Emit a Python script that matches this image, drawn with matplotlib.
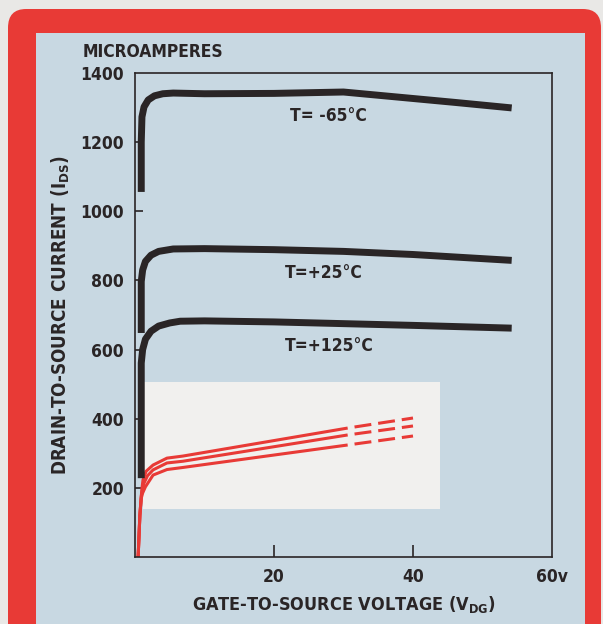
import matplotlib
matplotlib.use('Agg')
from matplotlib import pyplot as plt
from matplotlib.patches import FancyBboxPatch, Rectangle

# drain current curves, microamperes vs volts
vMinus65 = [0.9, 0.9, 1.0, 1.3, 1.9, 2.8, 4.0, 5.5, 10, 20, 30, 38, 46, 54.2]
iMinus65 = [1056, 1200, 1273, 1302, 1322, 1334, 1340, 1342, 1340, 1341, 1345, 1330, 1315, 1299]

vPlus25 = [0.9, 0.9, 1.1, 1.5, 2.3, 3.4, 5.5, 10, 20, 30, 40, 54.2]
iPlus25 = [648, 797, 830, 855, 873, 884, 891, 892, 889, 884, 875, 858]

vPlus125 = [0.9, 0.9, 1.1, 1.5, 2.3, 3.4, 5.0, 6.5, 10, 20, 30, 40, 54.2]
iPlus125 = [228, 561, 600, 630, 653, 668, 677, 682, 683, 680, 675, 670, 662]

# small-signal curves in the inset (solid part, then dashed extension)
vRedTop = [0.45, 0.7, 0.9, 1.0, 1.15, 1.6, 2.6, 4.6, 6.9, 30.6]
iRedTop = [0, 120, 175, 198, 223, 248, 266, 286, 292, 373]
vRedMid = [0.45, 0.7, 0.9, 1.05, 1.3, 1.8, 2.6, 4.6, 6.9, 30.6]
iRedMid = [0, 120, 175, 195, 214, 235, 252, 272, 277, 353]
vRedLow = [0.45, 0.7, 0.9, 1.1, 1.5, 2.6, 4.6, 6.9, 30.6]
iRedLow = [0, 120, 170, 185, 203, 237, 253, 259, 324]
vRedDash = [30.6, 40]
iRedTopDash = [373, 402]
iRedMidDash = [353, 379]
iRedLowDash = [324, 350]

xTicks = [20, 40, 60]
xTickLabels = ['20', '40', '60v']
yTicks = [200, 400, 600, 800, 1000, 1200, 1400]
yTickLabels = ['200', '400', '600', '800', '1000', '1200', '1400']

curveLabels = ['T= -65°C', 'T=+25°C', 'T=+125°C']
labelX = [22.3, 21.5, 21.5]
labelY = [1276, 821, 610]

INK = '#2a2526'
RED = '#e83a36'
FONT = ['DejaVu Sans']
FS = 12.5

fig = plt.figure(figsize=(6.03, 6.24), dpi=100)
fig.patch.set_facecolor('#e9e8e6')

W, H = 603.0, 624.0
# red frame and blue card behind the plot
frame = FancyBboxPatch((8 / W, -0.1), 593 / W, (624 - 9) / H + 0.1,
                       boxstyle='round,pad=0,rounding_size=0.03',
                       transform=fig.transFigure, facecolor=RED, edgecolor='none', zorder=-2)
fig.patches.append(frame)
card = Rectangle((36 / W, -0.1), 549 / W, (624 - 33) / H + 0.1,
                 transform=fig.transFigure, facecolor='#c8d8e2', edgecolor='none', zorder=-1)
fig.patches.append(card)

ax = fig.add_axes([135 / W, 1 - 557 / H, 417 / W, 484 / H])
ax.set_facecolor('none')
ax.set_zorder(1)
ax.set_xlim(0, 60)
ax.set_ylim(0, 1400)

# white inset panel
ax.add_patch(Rectangle((1.15, 139), 42.75, 367, facecolor='#f1f0ee', edgecolor='none', zorder=1))

ax.plot(vMinus65, iMinus65, color=INK, lw=5, solid_capstyle='butt', zorder=3)
ax.plot(vPlus25, iPlus25, color=INK, lw=5, solid_capstyle='butt', zorder=3)
ax.plot(vPlus125, iPlus125, color=INK, lw=5, solid_capstyle='butt', zorder=3)

for v, i, d in [(vRedTop, iRedTop, iRedTopDash), (vRedMid, iRedMid, iRedMidDash), (vRedLow, iRedLow, iRedLowDash)]:
    ax.plot(v, i, color=RED, lw=2.2, solid_capstyle='butt', zorder=2)
    ax.plot(vRedDash, d, color=RED, lw=2.2, dash_capstyle='butt',
            linestyle=(12.2 / 2.2, (12.2 / 2.2, 5.0 / 2.2)), zorder=2)

for s, x, y in zip(curveLabels, labelX, labelY):
    ax.text(x, y, s, ha='left', va='center', fontsize=FS, fontweight='bold',
            color=INK, family=FONT, stretch='condensed')

for sp in ax.spines.values():
    sp.set_color(INK)
    sp.set_linewidth(1.2)

ax.set_xticks(xTicks)
ax.set_xticklabels(xTickLabels)
ax.set_yticks(yTicks)
ax.set_yticklabels(yTickLabels)
ax.tick_params(axis='both', direction='in', color=INK, width=1.2, labelcolor=INK, labelsize=FS)
ax.tick_params(axis='x', length=9, pad=8)
ax.tick_params(axis='y', length=6, pad=8)
# the ticks on the frame edges are not drawn
ax.xaxis.get_major_ticks()[2].tick1line.set_visible(False)
ax.yaxis.get_major_ticks()[6].tick1line.set_visible(False)
for lab in ax.get_xticklabels() + ax.get_yticklabels():
    lab.set_family(FONT)
    lab.set_fontweight('bold')
    lab.set_stretch('condensed')

ax.set_xlabel('GATE-TO-SOURCE VOLTAGE ($\\mathregular{V_{DG}}$)', fontsize=13,
              fontweight='bold', color=INK, family=FONT, stretch='condensed', labelpad=6)
ax.set_ylabel('DRAIN-TO-SOURCE CURRENT ($\\mathregular{I_{DS}}$)', fontsize=13.5,
              fontweight='bold', color=INK, family=FONT, stretch='condensed', labelpad=6)

fig.text(83 / W, 1 - 52 / H, 'MICROAMPERES', ha='left', va='center', fontsize=FS,
         fontweight='bold', color=INK, family=FONT, stretch='condensed')

plt.savefig('out.png', dpi=100)
